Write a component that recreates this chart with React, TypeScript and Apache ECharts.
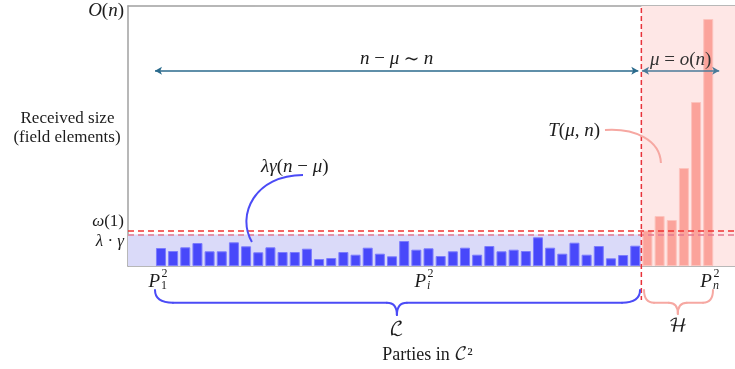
import React, { useEffect, useRef } from 'react';
import * as echarts from 'echarts';

// ---- data ----
const lowValues = [18, 15, 18.7, 23, 14.7, 14.7, 23.7, 19.7, 13.7, 18.7, 14, 14, 17.3, 7, 8, 14, 11.3, 18.3, 12.3, 9.7, 25, 16.3, 17.7, 10, 14.7, 18.3, 11.3, 20, 14.7, 16.3, 15, 28.7, 18.3, 12.3, 23.3, 11.3, 20, 7.7, 11, 20.3];
const highValues = [35.5, 50, 46, 98, 164, 247];
const omegaLevel = 35.5;
const lambdaGammaLevel = 31.5;
const yMax = 260;
const xMin = -2.71;
const xMax = 47.2;
const splitIndex = 39.5;
const yTickValues = [260, 46, 25.5];
const yTickTexts = ['O(n)', 'ω(1)', 'λ · γ'];
const arrowLevel = 195.3;
const arrowLowRange = [-0.49, 39.25];
const arrowHighRange = [39.56, 45.9];
const arrowLowText = 'n − μ ∼ n';
const arrowHighText = 'μ = o(n)';
const partyLabelIndex = [-0.08, 21.8, 45.3];
const partyLabelSub = ['1', 'i', 'n'];

const FONT = "'Liberation Serif', 'DejaVu Serif', serif";
const MATHFONT = "'Liberation Serif', 'DejaVu Math TeX Gyre', 'DejaVu Serif', serif";
const INK = '#1c1c1c';

const mathRich = (size: number, color = INK) => ({
  it: { fontFamily: MATHFONT, fontStyle: 'italic', fontSize: size, color, fill: color },
  rm: { fontFamily: MATHFONT, fontStyle: 'normal', fontSize: size, color, fill: color },
});

function math(s: string): string {
  let out = '';
  let cur = '';
  let style = '';
  for (const ch of s) {
    const st = /[A-Za-z\u03b1-\u03c9\u0391-\u03a9]/.test(ch) ? 'it' : 'rm';
    if (st !== style && cur) {
      out += `{${style}|${cur}}`;
      cur = '';
    }
    style = st;
    cur += ch;
  }
  if (cur) out += `{${style}|${cur}}`;
  return out;
}

export default function App() {
  const ref = useRef<HTMLDivElement>(null);
  useEffect(() => {
    const chart = echarts.init(ref.current!, null, { renderer: 'svg' });
    const blue = { color: '#4848fa', borderColor: '#7c7cfd', borderWidth: 1 };
    const red = { color: '#fba39b', borderColor: '#fcc3bd', borderWidth: 1 };
    const barData = [
      ...lowValues.map((v, i) => ({ value: [i, v], itemStyle: blue })),
      ...highValues.map((v, j) => ({ value: [lowValues.length + j, v], itemStyle: red })),
    ];
    const axisLine = { show: true, onZero: false, lineStyle: { color: '#a0a0a0', width: 1.5 } };
    chart.setOption({
      animation: false,
      grid: { left: 128, right: 0, top: 6, bottom: 103 },
      xAxis: [
        { type: 'value', min: xMin, max: xMax, axisLine, axisTick: { show: false }, axisLabel: { show: false }, splitLine: { show: false } },
        { type: 'value', position: 'top', min: xMin, max: xMax, axisLine, axisTick: { show: false }, axisLabel: { show: false }, splitLine: { show: false } },
      ],
      yAxis: {
        type: 'value', min: 0, max: yMax, axisLine, axisTick: { show: false }, splitLine: { show: false },
        axisLabel: { show: false },
      },
      series: [
        { type: 'bar', data: barData, barWidth: 10, z: 2, silent: true },
        {
          type: 'line', data: [[xMin, 0]], symbol: 'none', lineStyle: { width: 0 }, z: 1, silent: true,
          markArea: {
            silent: true,
            data: [
              [{ coord: [xMin, 0], itemStyle: { color: '#dadaf9' } }, { coord: [splitIndex, lambdaGammaLevel] }],
              [{ coord: [splitIndex, 0], itemStyle: { color: '#fee7e6' } }, { coord: [xMax, yMax] }],
            ],
          },
        },
        {
          type: 'line', data: [[xMin, 0]], symbol: 'none', lineStyle: { width: 0 }, z: 5, silent: true,
          markLine: {
            silent: true, symbol: 'none', label: { show: false },
            data: [
              { yAxis: omegaLevel, lineStyle: { color: '#ef3434', width: 1.5, type: [6, 4] } },
              { yAxis: lambdaGammaLevel, lineStyle: { color: '#e57a90', width: 1.5, type: [6, 4] } },
            ],
          },
        },
        {
          type: 'line', data: [[xMin, 0]], symbol: 'none', lineStyle: { width: 0 }, z: 6, silent: true,
          markLine: {
            silent: true, symbol: ['arrow', 'arrow'], symbolSize: [6, 7],
            data: [
              [
                { coord: [arrowLowRange[0], arrowLevel], lineStyle: { color: '#2a6a8c', width: 1.5, type: 'solid' },
                  label: { show: true, position: 'middle', distance: 4, formatter: math(arrowLowText), rich: mathRich(19) } },
                { coord: [arrowLowRange[1], arrowLevel] },
              ],
              [
                { coord: [arrowHighRange[0], arrowLevel], lineStyle: { color: '#4a7a98', width: 1.5, type: 'solid' },
                  label: { show: true, position: 'middle', distance: 3, formatter: math(arrowHighText), rich: mathRich(19, '#333') } },
                { coord: [arrowHighRange[1], arrowLevel] },
              ],
            ],
          },
        },
      ],
    });

    const p = (x: number, y: number) => chart.convertToPixel({ seriesIndex: 0 }, [x, y]) as number[];
    const g: any[] = [];

    // y tick labels (through the y scale)
    yTickValues.forEach((v, k) => {
      const pt = p(xMin, v);
      g.push({ type: 'text', z: 100, x: pt[0] - 4, y: pt[1] + (k === 0 ? 3 : 0), style: { text: math(yTickTexts[k]), rich: mathRich(k === 0 ? 19 : 17), align: 'right', verticalAlign: 'middle' } });
    });

    // divider
    const d0 = p(splitIndex, yMax - 2);
    const d1 = p(splitIndex, -34);
    g.push({ type: 'line', z: 100, shape: { x1: d0[0], y1: d0[1], x2: d1[0], y2: d1[1] }, style: { stroke: '#e8323a', lineWidth: 1.5, lineDash: [5, 3] } });

    // curves
    const curve = (pts: number[][], color: string) => {
      const [a, b, c, d] = pts.map(([x, y]) => p(x, y));
      return { type: 'bezierCurve', z: 100, shape: { x1: a[0], y1: a[1], cpx1: b[0], cpy1: b[1], cpx2: c[0], cpy2: c[1], x2: d[0], y2: d[1] }, style: { stroke: color, lineWidth: 2, fill: null } };
    };
    g.push(curve([[11.68, 91], [7.73, 91], [6.17, 51], [7.48, 24]], '#4b4bf6'));
    g.push(curve([[36.51, 136], [38.97, 138], [41.03, 126], [41.11, 103]], '#f6a8a2'));

    const text = (x: number, y: number, t: string, rich: any, align = 'center') => ({
      type: 'text', z: 100, x, y,
      style: { text: t, rich, align, verticalAlign: 'middle', fill: INK },
    });
    const lc = p(11.0, 101);
    g.push(text(lc[0], lc[1], math('λγ(n − μ)'), mathRich(19)));
    const tc = p(36.1, 137);
    g.push(text(tc[0], tc[1], math('T(μ, n)'), mathRich(19), 'right'));

    // braces
    const brace = (x0: number, x1: number, xc: number, color: string, rE: number, rC: number, tipV: number) => {
      const a = p(x0, -24), b = p(x1, -24), c = p(xc, tipV);
      const ym = p(x0, -36.7)[1];
      const st = { stroke: color, lineWidth: 2, fill: null, lineCap: 'round' };
      const q = (xa: number, ya: number, cx: number, cy: number, xb: number, yb: number) =>
        ({ type: 'bezierCurve', z: 100, shape: { x1: xa, y1: ya, cpx1: cx, cpy1: cy, x2: xb, y2: yb }, style: st });
      const ln = (xa: number, xb: number) => ({ type: 'line', z: 100, shape: { x1: xa, y1: ym, x2: xb, y2: ym }, style: st });
      return [
        q(a[0], a[1], a[0], ym, a[0] + rE, ym),
        ln(a[0] + rE, c[0] - rC),
        q(c[0] - rC, ym, c[0], ym, c[0], c[1]),
        q(c[0], c[1], c[0], ym, c[0] + rC, ym),
        ln(c[0] + rC, b[0] - rE),
        q(b[0] - rE, ym, b[0], ym, b[0], b[1]),
      ];
    };
    g.push(...brace(-0.49, 39.39, 19.4, '#4b4bf6', 18, 10, -49));
    g.push(...brace(39.72, 45.39, 42.5, '#f6a8a2', 10, 9, -48));
    const lL = p(19.4, -62);
    g.push({ type: 'text', z: 100, x: lL[0], y: lL[1], style: { text: 'ℒ', font: `19px ${MATHFONT}`, align: 'center', verticalAlign: 'middle', fill: INK } });
    const hL = p(42.5, -59);
    g.push({ type: 'text', z: 100, x: hL[0], y: hL[1], style: { text: 'ℋ', font: `19px ${MATHFONT}`, align: 'center', verticalAlign: 'middle', fill: INK } });

    // party labels
    partyLabelIndex.forEach((xi, k) => {
      const pp = p(xi, -14);
      g.push({ type: 'text', z: 100, x: pp[0], y: pp[1], style: { text: 'P', font: `italic 19px ${MATHFONT}`, lineHeight: 16, align: 'right', verticalAlign: 'middle', fill: INK } });
      g.push({ type: 'text', z: 100, x: pp[0] + 1.5, y: pp[1] - 7.5, style: { text: '2', font: `12px ${MATHFONT}`, lineHeight: 9, align: 'left', verticalAlign: 'middle', fill: INK } });
      g.push({ type: 'text', z: 100, x: pp[0] + 1, y: pp[1] + 5, style: { text: partyLabelSub[k], font: `${k === 0 ? '' : 'italic '}12px ${MATHFONT}`, lineHeight: 9, align: 'left', verticalAlign: 'middle', fill: INK } });
    });

    // axis names
    g.push({ type: 'text', z: 100, x: 67.5, y: 117.5, style: { text: 'Received size', font: `17px ${FONT}`, align: 'center', verticalAlign: 'middle', fill: INK } });
    g.push({ type: 'text', z: 100, x: 67, y: 136.5, style: { text: '(field elements)', font: `17px ${FONT}`, align: 'center', verticalAlign: 'middle', fill: INK } });
    g.push({ type: 'text', z: 100, x: 427.5, y: 354, style: { text: 'Parties in {c|𝒞}²', font: `18px ${FONT}`, rich: { c: { fontFamily: MATHFONT, fontSize: 18, fill: INK } }, align: 'center', verticalAlign: 'middle', fill: INK } });

    chart.setOption({ graphic: g });
    return () => chart.dispose();
  }, []);
  return <div ref={ref} style={{ position: 'fixed', left: 0, top: 0, width: 735, height: 369 }} />;
}
